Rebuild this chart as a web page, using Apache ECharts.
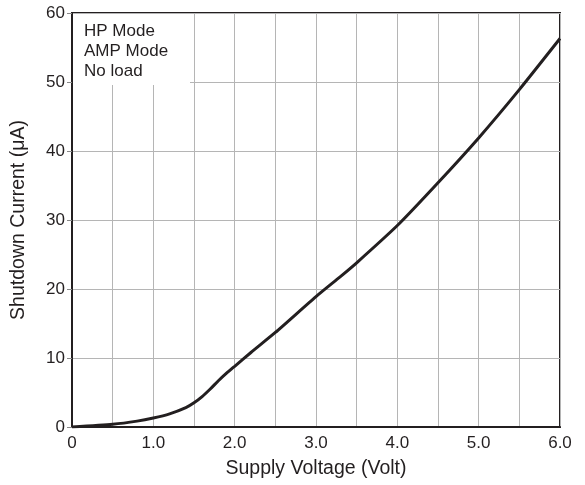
<!DOCTYPE html>
<html>
<head>
<meta charset="utf-8">
<script src="https://cdn.jsdelivr.net/npm/echarts@6/dist/echarts.min.js"></script>
<style>
  html, body { margin: 0; padding: 0; background: #fff; }
  #chart { width: 585px; height: 485px; }
</style>
</head>
<body>
<div id="chart"></div>
<script>
// supply voltage (V) vs shutdown current (uA)
const voltage = [0, 0.5, 0.8, 1.0, 1.2, 1.4, 1.5, 1.6, 1.7, 1.8, 1.9, 2.0, 2.2, 2.5, 3.0, 3.3, 3.5, 4.0, 4.5, 5.0, 5.5, 6.0]
const current = [0, 0.4, 0.85, 1.3, 1.9, 2.8, 3.5, 4.4, 5.5, 6.7, 7.8, 8.8, 10.8, 13.7, 18.9, 21.8, 23.8, 29.2, 35.4, 41.9, 48.9, 56.3]
const xTickLabels = { 0: '0', 1: '1.0', 2: '2.0', 3: '3.0', 4: '4.0', 5: '5.0', 6: '6.0' }
const noteLines = ['HP Mode', 'AMP Mode', 'No load']

const ink = '#231f20'
const font = 'Liberation Sans, Arial, sans-serif'

const chart = echarts.init(document.getElementById('chart'))
chart.setOption({
  animation: false,
  grid: {
    left: 72, right: 25, top: 13, bottom: 58,
    show: true,
    borderColor: ink,
    borderWidth: 2
  },
  xAxis: {
    type: 'value',
    min: 0, max: 6, interval: 0.5,
    name: 'Supply Voltage (Volt)',
    nameLocation: 'middle',
    nameGap: 32,
    nameTextStyle: { fontFamily: font, fontSize: 19.5, color: ink },
    axisLine: { lineStyle: { color: ink, width: 2 } },
    axisTick: { show: false },
    axisLabel: {
      fontFamily: font, fontSize: 17, color: ink, margin: 8,
      formatter: v => (v in xTickLabels ? xTickLabels[v] : '')
    },
    splitLine: { lineStyle: { color: '#b5b5b5', width: 1 } }
  },
  yAxis: {
    type: 'value',
    min: 0, max: 60, interval: 10,
    name: 'Shutdown Current (μA)',
    nameLocation: 'middle',
    nameGap: 43,
    nameTextStyle: { fontFamily: font, fontSize: 19.5, color: ink },
    axisLine: { show: true, lineStyle: { color: ink, width: 2 } },
    axisTick: { show: true, length: 5, lineStyle: { color: '#888' } },
    axisLabel: { fontFamily: font, fontSize: 17, color: ink, margin: 7 },
    splitLine: { lineStyle: { color: '#b5b5b5', width: 1 } }
  },
  graphic: [
    {
      type: 'rect', left: 73, top: 14, z: 10,
      shape: { width: 117, height: 71 },
      style: { fill: '#fff' }
    },
    {
      type: 'text', left: 84, top: 21, z: 11,
      style: {
        text: noteLines.join('\n'),
        font: '17px ' + font,
        lineHeight: 20,
        fill: ink
      }
    }
  ],
  series: [
    {
      type: 'line',
      data: voltage.map((v, i) => [v, current[i]]),
      smooth: 0.2,
      showSymbol: false,
      lineStyle: { color: ink, width: 3 }
    }
  ]
})
</script>
</body>
</html>
